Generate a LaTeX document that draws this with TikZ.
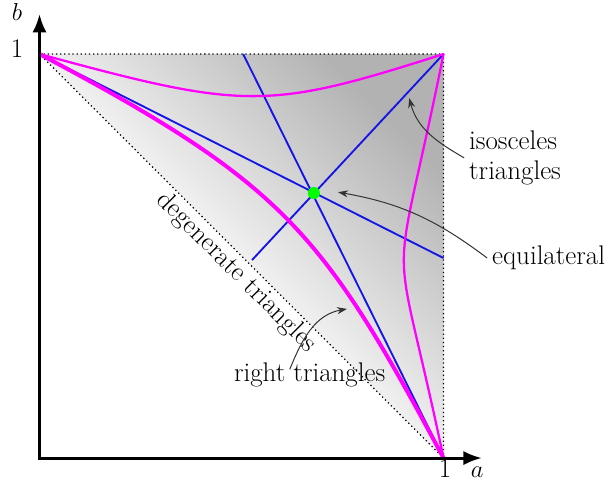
\documentclass[tikz,border=0pt]{standalone}
\usepackage{amsmath,amssymb}
\usepackage{xcolor}
\usepackage{tikz}
\usetikzlibrary{arrows.meta,positioning}

\definecolor{curvemag}{RGB}{255,0,255}
\definecolor{isoblue}{RGB}{20,20,230}
\definecolor{equigreen}{RGB}{0,255,0}

\begin{document}
\begin{tikzpicture}[
    x=10cm, y=10cm,
    >=Latex,
    axis/.style={line width=2.1pt, {Latex[length=13pt,width=10pt]}-{Latex[length=13pt,width=10pt]}},
    border/.style={dotted, line width=0.9pt},
    isoline/.style={isoblue, line width=1.3pt},
    rightcurve/.style={curvemag, line width=1.6pt},
    hypcurve/.style={curvemag, line width=2.8pt},
    note/.style={font=\fontsize{19}{21.5}\selectfont, align=left},
    pointer/.style={-{Stealth[length=7pt,width=5pt]}, black!80, line width=0.7pt},
    equidot/.style={circle, fill=equigreen, inner sep=0pt, minimum size=8.5pt}
]
\useasboundingbox (-0.0978,-0.0668) rectangle (1.417,1.1337);

% Corners of the region of admissible triangles.
\coordinate (O) at (0,0);
\coordinate (A) at (1,0);
\coordinate (B) at (0,1);
\coordinate (C) at (1,1);
\coordinate (E) at (0.679,0.656);

% Shaded region with dotted border.
\shade[bottom color=white, top color=black!30, middle color=black!6, shading angle=-45] (B) -- (C) -- (A) -- cycle;
\draw[border] (B) -- (C) -- (A) -- cycle;

% Isosceles triangles.
\coordinate (iso1) at (1,0.495);
\coordinate (iso2) at (0.504,1);
\coordinate (iso3) at (0.526,0.490);
\draw[isoline] (B) -- (iso1);
\draw[isoline] (iso2) -- (A);
\draw[isoline] (C) -- (iso3);

% Right triangles.
\draw[rightcurve] (B) .. controls (0.51,0.861) and (0.565,0.861) .. (C);
\draw[rightcurve] (C) .. controls (0.869,0.35) and (0.869,0.623) .. (A);
\draw[hypcurve] (B) .. controls (0.607,0.678) and (0.70,0.56) .. (A);

% Equilateral triangle.
\node[equidot] (equi) at (E) {};

% Axes.
\draw[axis] (0,1.099) -- (O) -- (1.095,0);
\node[note, anchor=base] (tick-a) at (1.004,-0.047) {1};
\node[note, anchor=base] (lab-a) at (1.083,-0.047) {$a$};
\node[note, anchor=base] (tick-b) at (-0.0557,0.9926) {1};
\node[note, anchor=base] (lab-b) at (-0.0557,1.0824) {$b$};

% Labels.
\path (B) -- (A) node[note, sloped, below, pos=0.514, inner sep=2pt] (degen) {degenerate triangles};
\node[note, anchor=west] (iso-label) at (1.051,0.743) {isosceles\\triangles};
\node[note, anchor=west] (equi-label) at (1.108,0.495) {equilateral};
\node[note, anchor=base west] (right-label) at (0.469,0.1906) {right triangles};

% Pointers.
\coordinate (isotip) at (0.915,0.891);
\coordinate (equitip) at (0.739,0.658);
\coordinate (righttip) at (0.761,0.369);
\draw[pointer] (iso-label.west) to[out=150, in=-75] (isotip);
\draw[pointer] (equi-label.west) to[out=143, in=-10] (equitip);
\draw[pointer] ([xshift=-14pt,yshift=-8.5pt]right-label.north) to[out=68, in=-170] (righttip);

\end{tikzpicture}
\end{document}
